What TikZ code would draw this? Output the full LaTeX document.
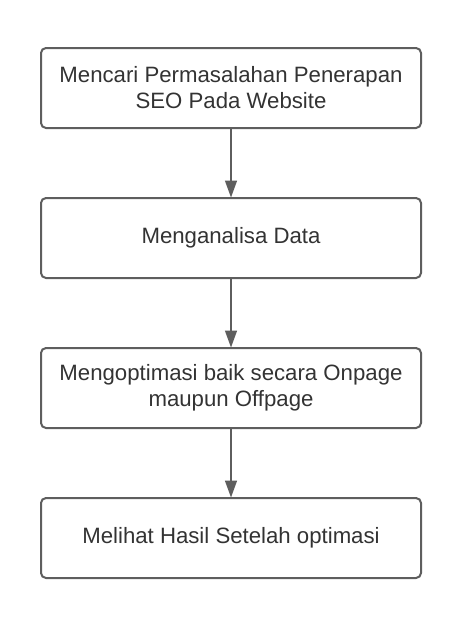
\documentclass[tikz,border=0pt]{standalone}
\usepackage{fontspec}
\setmainfont{Liberation Sans}
\usetikzlibrary{arrows.meta}
\definecolor{linegray}{HTML}{5E5E5E}
\definecolor{textgray}{HTML}{333333}
\tikzset{
  stepbox/.style={draw=linegray, line width=2pt, rounded corners=5pt, minimum width=380pt, minimum height=80pt, align=center, text=textgray, font=\fontsize{22.2}{26}\selectfont, inner sep=0pt},
  flowarrow/.style={draw=linegray, line width=1.5pt, -{Triangle[length=17pt,width=12pt]}, shorten >=-0.5pt}
}
\begin{document}
\begin{tikzpicture}[x=1pt,y=-1pt]
\useasboundingbox (0,0) rectangle (462,627);
\node[stepbox] (b1) at (231,88) {Mencari Permasalahan Penerapan\\SEO Pada Website};
\node[stepbox] (b2) at (231,238) {Menganalisa Data};
\node[stepbox] (b3) at (231,388) {Mengoptimasi baik secara Onpage\\maupun Offpage};
\node[stepbox] (b4) at (231,538) {Melihat Hasil Setelah optimasi};
\draw[flowarrow] (b1) -- (b2);
\draw[flowarrow] (b2) -- (b3);
\draw[flowarrow] (b3) -- (b4);
\end{tikzpicture}
\end{document}
